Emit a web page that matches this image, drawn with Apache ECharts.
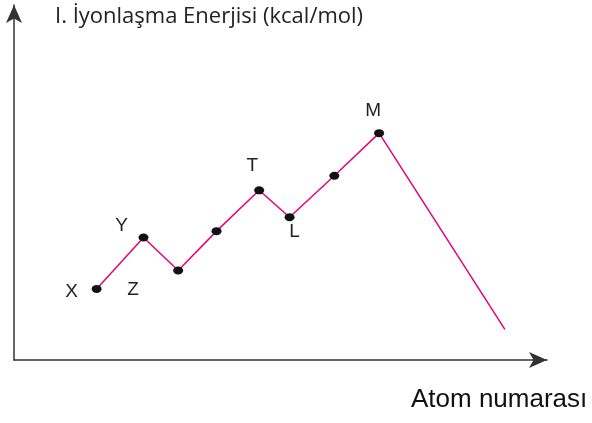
<!DOCTYPE html>
<html>
<head>
<meta charset="utf-8">
<script src="https://cdn.jsdelivr.net/npm/echarts@6/dist/echarts.min.js"></script>
<style>
  html, body { margin: 0; padding: 0; background: #fff; }
  #chart { width: 592px; height: 423px; }
</style>
</head>
<body>
<div id="chart"></div>
<script>
// atom numarası (relative) and ionisation energy (relative)
var xValues = [15.5, 24.3, 30.8, 38.0, 46.0, 51.7, 60.1, 68.5, 92.1];
var energies = [20.0, 34.5, 25.2, 36.3, 47.8, 40.2, 51.9, 63.9, 8.6];
var pointNames = ['X', 'Y', 'Z', '', 'T', 'L', '', 'M', ''];
// label offsets relative to each point
var labelOffsets = [[-25, 3], [-22, -12], [-45, 19], [0, 0], [-7, -25], [5, 14], [0, 0], [-6, -22], [0, 0]];

var chart = echarts.init(document.getElementById('chart'));

var data = xValues.map(function (x, i) {
  var item = { value: [x, energies[i]] };
  if (i === xValues.length - 1) item.symbol = 'none';
  if (pointNames[i]) {
    item.label = { show: true, formatter: pointNames[i], offset: labelOffsets[i] };
  }
  return item;
});

chart.setOption({
  animation: false,
  grid: { left: 14, right: 45, top: 5, bottom: 63 },
  xAxis: {
    type: 'value', min: 0, max: 100,
    axisLine: { lineStyle: { color: '#333', width: 1.5 }, symbol: ['none', 'arrow'], symbolSize: [12, 18] },
    axisTick: { show: false }, axisLabel: { show: false }, splitLine: { show: false }
  },
  yAxis: {
    type: 'value', min: 0, max: 100,
    axisLine: { show: true, lineStyle: { color: '#333', width: 1.5 }, symbol: ['none', 'arrow'], symbolSize: [12, 18] },
    axisTick: { show: false }, axisLabel: { show: false }, splitLine: { show: false }
  },
  graphic: [
    { type: 'text', left: 55, top: 6, style: { text: 'I. İyonlaşma Enerjisi (kcal/mol)', font: '22px "Open Sans"', fill: '#222' } },
    { type: 'text', left: 411, top: 387, style: { text: 'Atom numarası', font: '26px "Liberation Sans"', fill: '#111' } }
  ],
  series: [{
    type: 'line',
    data: data,
    symbol: 'circle',
    symbolSize: [10, 8],
    itemStyle: { color: '#111' },
    lineStyle: { color: '#e6007e', width: 1.5 },
    label: { show: false, position: 'inside', color: '#222', fontSize: 19, fontFamily: 'Liberation Sans' }
  }]
});
</script>
</body>
</html>
